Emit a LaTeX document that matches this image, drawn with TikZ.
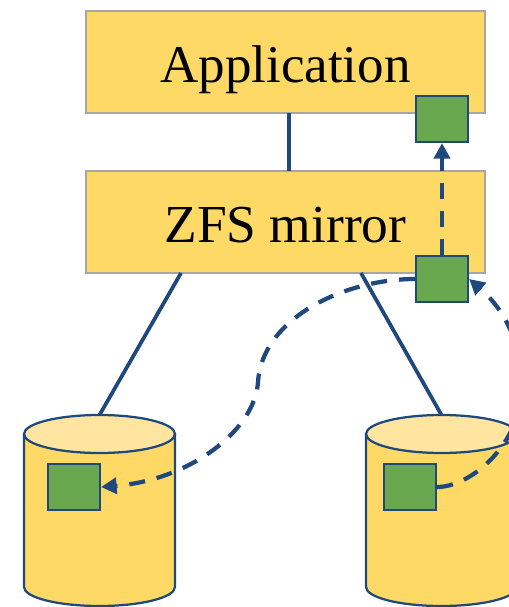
\documentclass[tikz,border=0pt]{standalone}
\usepackage{fontspec}
\setmainfont{Liberation Serif}
\usetikzlibrary{arrows.meta}
\definecolor{lineColor}{RGB}{31,73,125}
\definecolor{layerColor}{RGB}{255,217,102}
\definecolor{layerBorder}{RGB}{166,166,166}
\definecolor{diskTopColor}{RGB}{255,229,159}
\definecolor{replicaColor}{RGB}{106,168,79}
\tikzstyle{pixels} = [x = .02cm, y = -.02cm]
\tikzstyle{layerStyle} = [draw=layerBorder, fill=layerColor, line width=.04cm, minimum width=7.98cm, minimum height=2.04cm, text height=.84cm, text depth=0cm, font=\fontsize{30.2}{36}\selectfont]
\tikzstyle{replicaStyle} = [draw=lineColor, fill=replicaColor, line width=.045cm, inner sep=0, minimum width=1.04cm, minimum height=.92cm]
\tikzstyle{diskBody} = [draw=lineColor, fill=layerColor, line width=.045cm]
\tikzstyle{diskTop} = [draw=lineColor, fill=diskTopColor, line width=.045cm]
\tikzstyle{linkLine} = [draw=lineColor, line width=.075cm]
\tikzstyle{copyLine} = [linkLine, line width=.085cm, dash pattern=on .32cm off .24cm, -{Triangle[length=.31cm, width=.32cm]}]
\newcommand{\diskShape}[2]{
  \filldraw [diskBody] (#2 - 75.5, 434) -- (#2 - 75.5, 587) arc [start angle=180, end angle=360, x radius=1.51cm, y radius=.38cm] -- (#2 + 75.5, 434) -- cycle;
  \filldraw [diskTop] (#2, 434) ellipse [x radius=1.51cm, y radius=.38cm];
  \coordinate (#1) at (#2, 415);
}
\begin{document}
\begin{tikzpicture}[pixels]
  \clip (0,0) rectangle (509,607);
  % layers
  \node [layerStyle] (application) at (285.5,62) {Application};
  \node [layerStyle, font=\fontsize{30.4}{36}\selectfont] (zfsMirror) at (285.5,222) {ZFS mirror};
  % disks
  \diskShape{diskLeft}{99.5}
  \diskShape{diskRight}{441.5}
  \coordinate (appFoot) at (289,113);
  \coordinate (zfsHead) at (289,171);
  \coordinate (zfsFootLeft) at (181,273);
  \coordinate (zfsFootRight) at (361,273);
  \draw [linkLine] (appFoot) -- (zfsHead);
  \draw [linkLine] (zfsFootLeft) -- (diskLeft);
  \draw [linkLine] (zfsFootRight) -- (diskRight);
  % copies
  \node [replicaStyle] (replicaApp) at (442,119) {};
  \node [replicaStyle] (replicaZfs) at (442,279) {};
  \node [replicaStyle] (replicaLeft) at (74,487) {};
  \node [replicaStyle] (replicaRight) at (410,487) {};
  \draw [copyLine] (replicaZfs.north) -- (replicaApp.south);
  \draw [copyLine] (replicaZfs.west) .. controls (345,279) and (262,318) .. (258,382) .. controls (255,430) and (190,480) .. (replicaLeft.east);
  \draw [copyLine] (replicaRight.east) .. controls (470,487) and (522,445) .. (522,385) .. controls (522,345) and (505,310) .. (replicaZfs.east);
\end{tikzpicture}
\end{document}
